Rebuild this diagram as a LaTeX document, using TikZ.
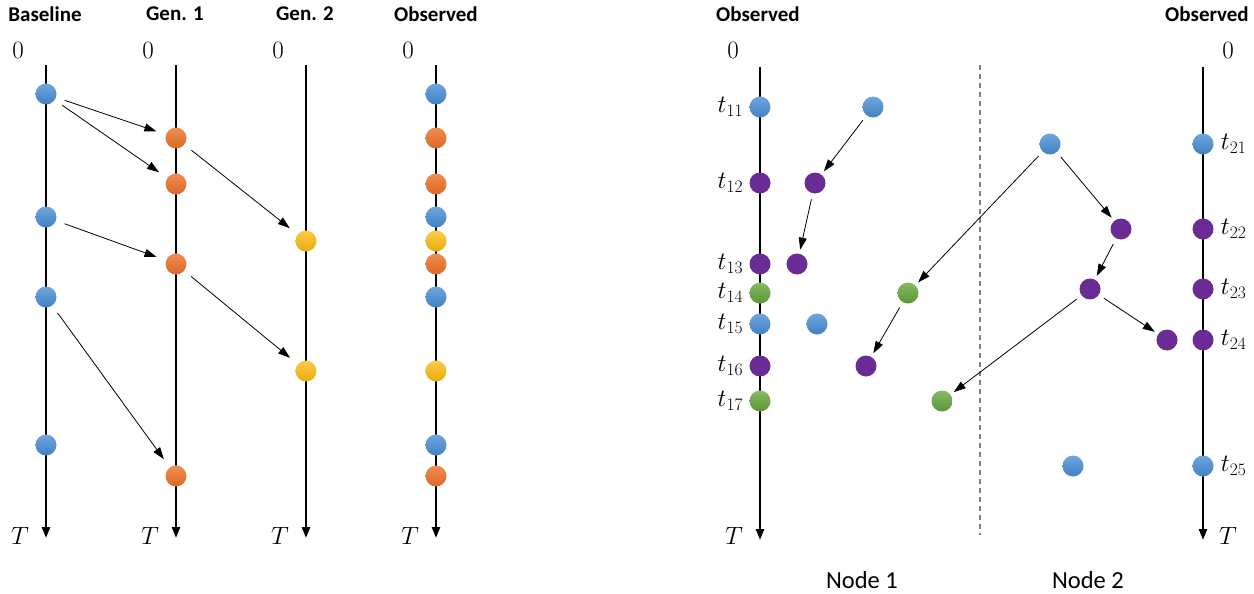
\RequirePackage{fix-cm}
\documentclass[tikz,border=0pt]{standalone}
\usepackage{fontspec}
\setmainfont{Carlito}
\usepackage{tikz}
\usetikzlibrary{positioning,arrows.meta}
\definecolor{evBlue}{HTML}{4A8FD6}
\definecolor{evOrange}{HTML}{EE7128}
\definecolor{evYellow}{HTML}{FDBA0C}
\definecolor{evGreen}{HTML}{68A93E}
\definecolor{evPurple}{HTML}{6A2C94}
\tikzset{
  x=1pt,y=-1pt,
  evdot/.style={circle,minimum size=21pt,inner sep=0pt},
  evblue/.style={evdot,top color=evBlue!80!white,bottom color=evBlue!90!black},
  evorange/.style={evdot,top color=evOrange!80!white,bottom color=evOrange!92!black},
  evyellow/.style={evdot,top color=evYellow!75!white,bottom color=evYellow!92!black},
  evgreen/.style={evdot,top color=evGreen!80!white,bottom color=evGreen!88!black},
  evpurple/.style={evdot,fill=evPurple},
  timeax/.style={-{Triangle[length=11pt,width=8pt]},line width=2.4pt},
  cause/.style={-{Triangle[length=12pt,width=8pt]},line width=0.8pt,
    shorten <=9pt,shorten >=10pt},
  causeb/.style={-{Triangle[length=12pt,width=8pt]},line width=0.8pt,
    shorten <=6pt,shorten >=4pt},
  coltitle/.style={font=\bfseries\fontsize{21}{25}\selectfont},
  axlbl/.style={font=\fontsize{25}{30}\selectfont,inner sep=1pt},
  nodelbl/.style={font=\fontsize{24.5}{29}\selectfont},
  sep/.style={gray,dashed,line width=1.2pt,dash pattern=on 5pt off 4pt},
}
\begin{document}
\begin{tikzpicture}
  \useasboundingbox (0,0) rectangle (1254,594);
  % left panel: column titles and axes
  \node[coltitle] (tBase) at (45,14) {Baseline};
  \node[coltitle] (tGenA) at (175,14) {Gen. 1};
  \node[coltitle] (tGenB) at (305,14) {Gen. 2};
  \node[coltitle] (tObsL) at (436,14) {Observed};
  \foreach \nm/\x in {base/46,gena/176,genb/306,obs/436}{
    \coordinate (\nm0) at (\x,65);
    \coordinate (\nm T) at (\x,538);
    \draw[timeax] (\nm0) -- (\nm T);
    \node[axlbl] at (\x-28,50) {$0$};
    \node[axlbl] at (\x-26,536) {$T$};
  }
  % baseline events
  \node[evblue] (b1) at (46,94) {};
  \node[evblue] (b2) at (46,217) {};
  \node[evblue] (b3) at (46,297) {};
  \node[evblue] (b4) at (46,445) {};
  % generation 1
  \node[evorange] (g1) at (176,138) {};
  \node[evorange] (g2) at (176,184) {};
  \node[evorange] (g3) at (176,264) {};
  \node[evorange] (g4) at (176,476) {};
  % generation 2
  \node[evyellow] (h1) at (306,241) {};
  \node[evyellow] (h2) at (306,371) {};
  % observed = all of them
  \node[evblue] (o1) at (436,94) {};
  \node[evorange] (o2) at (436,138) {};
  \node[evorange] (o3) at (436,184) {};
  \node[evblue] (o4) at (436,217) {};
  \node[evyellow] (o5) at (436,241) {};
  \node[evorange] (o6) at (436,264) {};
  \node[evblue] (o7) at (436,297) {};
  \node[evyellow] (o8) at (436,371) {};
  \node[evblue] (o9) at (436,445) {};
  \node[evorange] (o10) at (436,476) {};
  \draw[cause] (b1) -- (g1);
  \draw[cause] (b1) -- (g2);
  \draw[cause] (b2) -- (g3);
  \draw[cause] (b3) -- (g4);
  \draw[cause] (g1) -- (h1);
  \draw[cause] (g3) -- (h2);

  % right panel: two nodes
  \node[coltitle] (tObsA) at (758,14) {Observed};
  \node[coltitle] (tObsB) at (1207,14) {Observed};
  \coordinate (ax10) at (760,67);
  \coordinate (ax1T) at (760,540);
  \coordinate (ax20) at (1203,67);
  \coordinate (ax2T) at (1203,540);
  \draw[timeax] (ax10) -- (ax1T);
  \draw[timeax] (ax20) -- (ax2T);
  \node[axlbl] (z1) at (733,50) {$0$};
  \node[axlbl] (T1) at (734,536) {$T$};
  \node[axlbl] (z2) at (1228,50) {$0$};
  \node[axlbl] (T2) at (1228,536) {$T$};
  \coordinate (sepTop) at (980,65);
  \coordinate (sepBot) at (980,535);
  \draw[sep] (sepTop) -- (sepBot);
  \node[nodelbl] (lbA) at (862,580) {Node 1};
  \node[nodelbl] (lbB) at (1088,580) {Node 2};
  % observed events of node 1
  \node[evblue] (n11) at (760,107) {};
  \node[evpurple] (n12) at (760,183) {};
  \node[evpurple] (n13) at (760,264) {};
  \node[evgreen] (n14) at (760,293) {};
  \node[evblue] (n15) at (760,324) {};
  \node[evpurple] (n16) at (760,366) {};
  \node[evgreen] (n17) at (760,401) {};
  \foreach \i in {11,...,17}
    \node[axlbl,left=5pt of n\i] {$t_{\i}$};
  % observed events of node 2
  \node[evblue] (n21) at (1203,144) {};
  \node[evpurple] (n22) at (1203,229) {};
  \node[evpurple] (n23) at (1203,289) {};
  \node[evpurple] (n24) at (1203,340) {};
  \node[evblue] (n25) at (1203,466) {};
  \foreach \i in {21,...,25}
    \node[axlbl,right=6pt of n\i] {$t_{\i}$};
  % latent branching, node 1 side
  \node[evblue] (f1) at (873,107) {};
  \node[evpurple] (f2) at (815,183) {};
  \node[evpurple] (f3) at (797,264) {};
  \node[evgreen] (f4) at (908,293) {};
  \node[evblue] (f5) at (817,324) {};
  \node[evpurple] (f6) at (866,366) {};
  \node[evgreen] (f7) at (942,401) {};
  % latent branching, node 2 side
  \node[evblue] (s1) at (1050,144) {};
  \node[evpurple] (s2) at (1121,229) {};
  \node[evpurple] (s3) at (1090,289) {};
  \node[evpurple] (s4) at (1167,340) {};
  \node[evblue] (s5) at (1073,466) {};
  \draw[causeb] (f1) -- (f2);
  \draw[causeb] (f2) -- (f3);
  \draw[causeb] (s1) -- (f4);
  \draw[causeb] (s1) -- (s2);
  \draw[causeb] (s2) -- (s3);
  \draw[causeb] (f4) -- (f6);
  \draw[causeb] (s3) -- (f7);
  \draw[causeb] (s3) -- (s4);
\end{tikzpicture}
\end{document}
